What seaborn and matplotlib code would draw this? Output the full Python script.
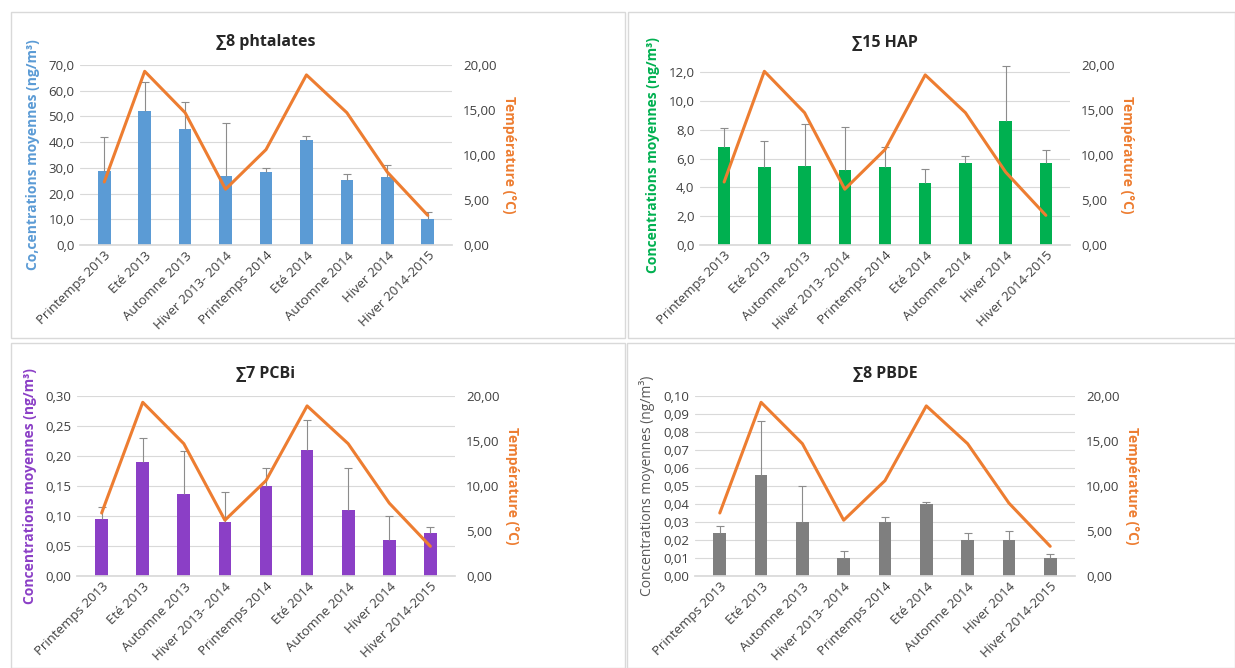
import matplotlib
matplotlib.use("Agg")
import matplotlib.pyplot as plt
from matplotlib.patches import Rectangle
from matplotlib.ticker import FuncFormatter
import numpy as np
import seaborn as sns

# ── Data ──────────────────────────────────────────────────────────────────────
seasons = ["Printemps 2013", "Eté 2013", "Automne 2013", "Hiver 2013- 2014",
           "Printemps 2014", "Eté 2014", "Automne 2014", "Hiver 2014",
           "Hiver 2014-2015"]
temperature = [7.0, 19.3, 14.7, 6.2, 10.6, 18.9, 14.7, 8.1, 3.3]

phtalates = [28.8, 52.0, 45.0, 27.0, 28.5, 41.0, 25.3, 26.5, 10.0]
phtalates_top = [42.0, 63.5, 55.8, 47.5, 30.0, 42.5, 27.8, 31.2, 12.8]

hap = [6.8, 5.4, 5.5, 5.2, 5.4, 4.3, 5.7, 8.6, 5.7]
hap_top = [8.1, 7.2, 8.4, 8.2, 6.8, 5.3, 6.2, 12.4, 6.6]

pcbi = [0.095, 0.19, 0.137, 0.09, 0.15, 0.21, 0.11, 0.06, 0.071]
pcbi_top = [0.115, 0.23, 0.208, 0.14, 0.18, 0.26, 0.18, 0.10, 0.082]

pbde = [0.024, 0.056, 0.030, 0.010, 0.030, 0.040, 0.020, 0.020, 0.010]
pbde_top = [0.028, 0.086, 0.050, 0.014, 0.033, 0.041, 0.024, 0.025, 0.012]

ORANGE = "#ED7D31"
W, H = 1235, 668

panels = [
    dict(title="∑8 phtalates", vals=phtalates, top=phtalates_top, color="#5B9BD5",
         ylabel="Co,centrations moyennes (ng/m³)", lbold=True, ylim=70, step=10, dec=1,
         frame=(11, 12, 625, 338), axbox=(80, 65, 452, 245)),
    dict(title="∑15 HAP", vals=hap, top=hap_top, color="#00B050",
         ylabel="Concentrations moyennes (ng/m³)", lbold=True, ylim=12.5, step=2, dec=1,
         ymaxtick=12, frame=(628, 12, 1235, 338), axbox=(700, 65, 1070, 245)),
    dict(title="∑7 PCBi", vals=pcbi, top=pcbi_top, color="#8B3FC6",
         ylabel="Concentrations moyennes (ng/m³)", lbold=True, ylim=0.30, step=0.05, dec=2,
         frame=(11, 343, 625, 668), axbox=(77, 396, 455, 576)),
    dict(title="∑8 PBDE", vals=pbde, top=pbde_top, color="#7F7F7F",
         ylabel="Concentrations moyennes (ng/m³)", lbold=False, ylim=0.10, step=0.01, dec=2,
         frame=(627, 343, 1235, 668), axbox=(695, 396, 1075, 576)),
]

sns.set_theme(style="white")
plt.rcParams["font.family"] = ["Open Sans", "DejaVu Sans"]

fig = plt.figure(figsize=(W / 100, H / 100), dpi=100)


def fmt(dec):
    return FuncFormatter(lambda v, p: f"{v:.{dec}f}".replace(".", ","))


for p in panels:
    x0, y0, x1, y1 = p["frame"]
    fig.patches.append(Rectangle((x0 / W, 1 - y1 / H), (x1 - x0) / W, (y1 - y0) / H,
                                 transform=fig.transFigure, fill=False,
                                 edgecolor="#D9D9D9", linewidth=1.0))
    l, t, r, b = p["axbox"]
    ax = fig.add_axes([l / W, 1 - b / H, (r - l) / W, (b - t) / H])

    sns.barplot(x=seasons, y=p["vals"], color=p["color"], width=0.31,
                saturation=1, linewidth=0, ax=ax, zorder=2)
    xs = np.arange(len(seasons))
    lower = np.zeros(len(seasons))
    upper = np.array(p["top"]) - np.array(p["vals"])
    # upper-only error bars (stem + single cap)
    ax.errorbar(xs, p["vals"], yerr=[lower, upper], fmt="none",
                ecolor="#8C8C8C", elinewidth=0.8, capsize=0, zorder=3)
    ax.plot(xs, p["top"], linestyle="none", marker="_", markersize=6,
            markeredgewidth=0.8, color="#8C8C8C", zorder=3)

    ymaxtick = p.get("ymaxtick", p["ylim"])
    ticks = np.arange(0, ymaxtick + p["step"] / 2, p["step"])
    ax.set_ylim(0, p["ylim"])
    ax.set_yticks(ticks)
    ax.yaxis.set_major_formatter(fmt(p["dec"]))
    ax.grid(axis="y", color="#D9D9D9", linewidth=0.8, zorder=0)
    ax.set_axisbelow(True)
    for s in ["top", "right", "left"]:
        ax.spines[s].set_visible(False)
    ax.spines["bottom"].set_color("#D9D9D9")
    ax.tick_params(axis="y", labelsize=9.5, colors="#404040", length=0, pad=4)
    ax.tick_params(axis="x", labelsize=9.5, colors="#404040", length=0, pad=3)
    ax.set_xticks(xs)
    ax.set_xticklabels(seasons, rotation=45, ha="right", rotation_mode="anchor")
    ax.set_xlim(-0.6, len(seasons) - 0.4)
    ax.set_ylabel(p["ylabel"], fontsize=10,
                  fontweight="bold" if p["lbold"] else "normal",
                  color=p["color"] if p["lbold"] else "#595959", labelpad=6)
    ax.set_title(p["title"], fontsize=11.5, fontweight="bold", color="#262626", pad=14)

    ax2 = ax.twinx()
    sns.lineplot(x=list(xs), y=temperature, color=ORANGE,
                 linewidth=2.2, ax=ax2, zorder=4)
    ax2.set_ylim(0, 20)
    ax2.set_yticks([0, 5, 10, 15, 20])
    ax2.yaxis.set_major_formatter(fmt(2))
    ax2.grid(False)
    for s in ax2.spines.values():
        s.set_visible(False)
    ax2.tick_params(axis="y", labelsize=9.5, colors="#404040", length=0, pad=8)
    ax2.set_ylabel("Température (°C)", fontsize=10, fontweight="bold", color=ORANGE,
                   rotation=270, labelpad=14)

fig.savefig("out.png", dpi=100, facecolor="white")
